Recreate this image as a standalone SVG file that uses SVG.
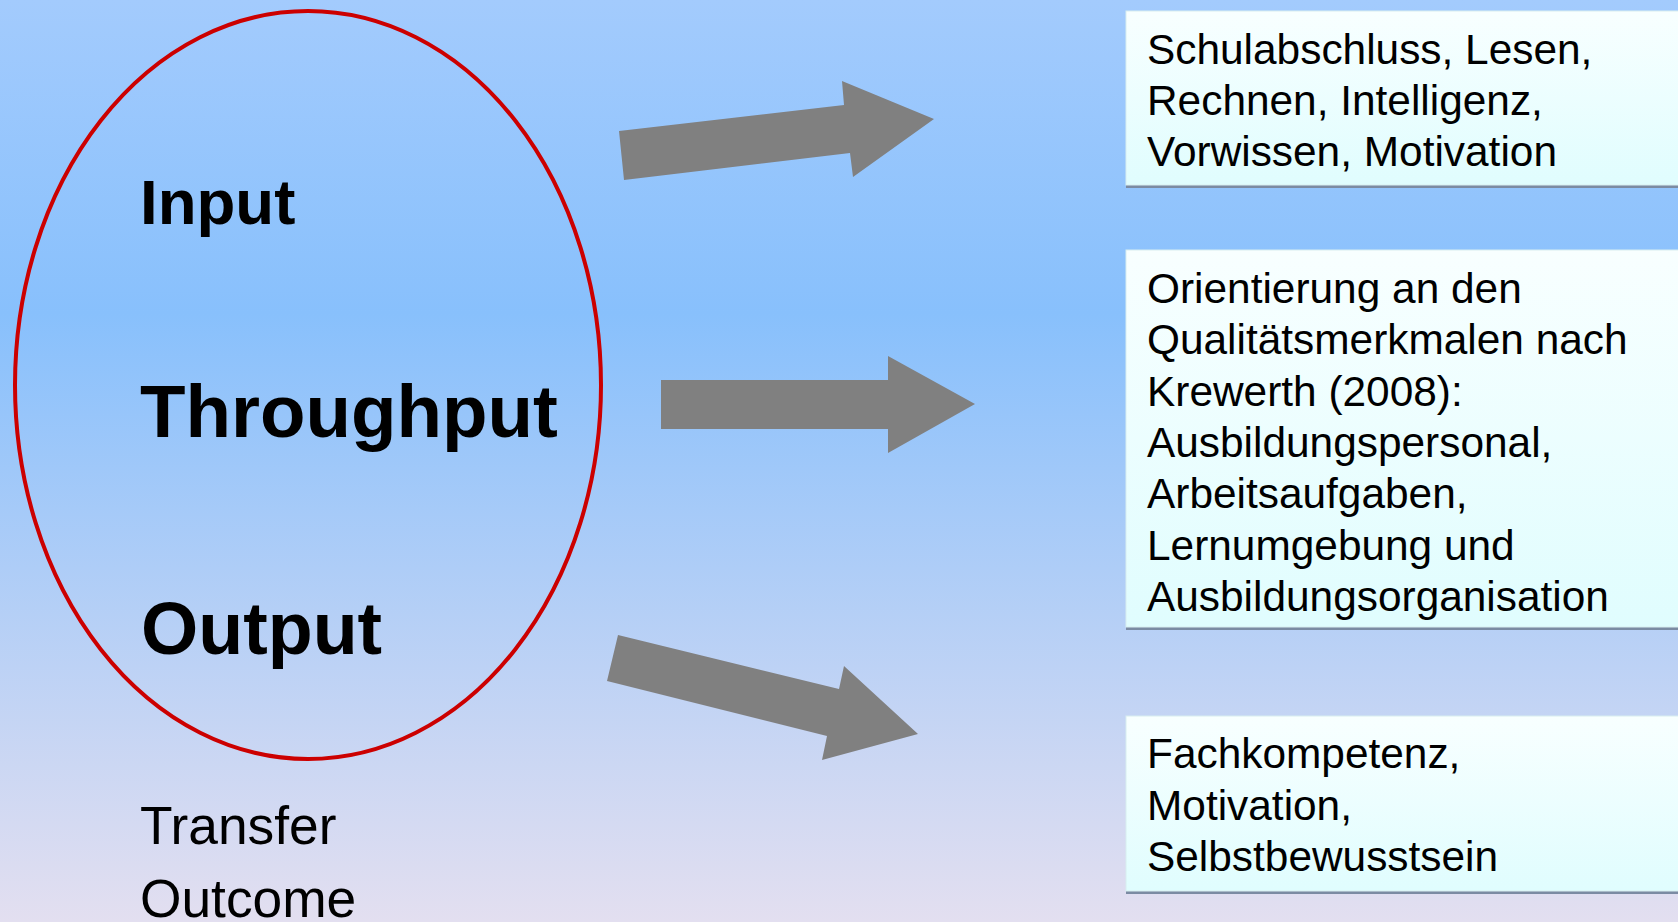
<svg xmlns="http://www.w3.org/2000/svg" width="1678" height="922" viewBox="0 0 1678 922">
<defs>
<linearGradient id="bg" x1="0" y1="0" x2="0" y2="1">
<stop offset="0" stop-color="#a3cbfd"/>
<stop offset="0.34" stop-color="#88c0fc"/>
<stop offset="1" stop-color="#e3dff0"/>
</linearGradient>
<linearGradient id="box" x1="0" y1="0" x2="0" y2="1">
<stop offset="0" stop-color="#f8ffff"/>
<stop offset="1" stop-color="#e0fdfe"/>
</linearGradient>
<style>
.big{font-family:"Liberation Sans",Arial,sans-serif;font-weight:bold;fill:#000}
.reg{font-family:"Liberation Sans",Arial,sans-serif;fill:#000}
.bt{font-family:"Liberation Sans",Arial,sans-serif;font-size:42.4px;fill:#000}
.arrow{fill:#808080}
.boxr{fill:url(#box);stroke:#d8eef0;stroke-width:1}
.shadow{fill:#7b8ba3}
</style>
</defs>
<rect x="0" y="0" width="1678" height="922" fill="url(#bg)"/>
<g id="ellipse">
<ellipse cx="308" cy="385" rx="293" ry="374" fill="none" stroke="#cc0000" stroke-width="4"/>
<text class="big" x="140" y="224" font-size="63.6">Input</text>
<text class="big" x="140" y="437" font-size="74.5">Throughput</text>
<text class="big" x="141" y="654" font-size="73.6">Output</text>
</g>
<g id="labels">
<text class="reg" x="140" y="844" font-size="53.3">Transfer</text>
<text class="reg" x="140" y="917" font-size="53.3">Outcome</text>
</g>
<g id="connectors">
<polygon class="arrow" points="619,131 844,105 842,81 934,119 853,177 850,153 624,180"/>
<polygon class="arrow" points="661,380 888,380 888,356 975,404 888,453 888,429 661,429"/>
<polygon class="arrow" points="618,635 839,689 844,666 918,734 822,760 827,736 607,681"/>
</g>
<g id="box1">
<rect class="shadow" x="1126" y="184" width="560" height="4"/>
<rect class="boxr" x="1126" y="11" width="560" height="174"/>
<text class="bt" x="1147" y="64">Schulabschluss, Lesen,</text>
<text class="bt" x="1147" y="115">Rechnen, Intelligenz,</text>
<text class="bt" x="1147" y="166">Vorwissen, Motivation</text>
</g>
<g id="box2">
<rect class="shadow" x="1126" y="626" width="560" height="4"/>
<rect class="boxr" x="1126" y="250" width="560" height="377"/>
<text class="bt" x="1147" y="303">Orientierung an den</text>
<text class="bt" x="1147" y="354">Qualitätsmerkmalen nach</text>
<text class="bt" x="1147" y="406">Krewerth (2008):</text>
<text class="bt" x="1147" y="457">Ausbildungspersonal,</text>
<text class="bt" x="1147" y="508">Arbeitsaufgaben,</text>
<text class="bt" x="1147" y="560">Lernumgebung und</text>
<text class="bt" x="1147" y="611">Ausbildungsorganisation</text>
</g>
<g id="box3">
<rect class="shadow" x="1126" y="890" width="560" height="4"/>
<rect class="boxr" x="1126" y="716" width="560" height="175"/>
<text class="bt" x="1147" y="768">Fachkompetenz,</text>
<text class="bt" x="1147" y="820">Motivation,</text>
<text class="bt" x="1147" y="871">Selbstbewusstsein</text>
</g>
</svg>
